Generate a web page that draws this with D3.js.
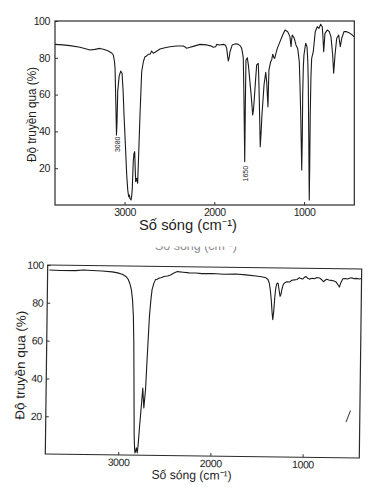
<!DOCTYPE html>
<html>
  <head>
    <meta charset="utf-8">
    <title>Phổ hồng ngoại</title>
    <script src="https://d3js.org/d3.v7.min.js"></script>
    <style>
      body { margin: 0; background: #fff; }
      .axis .tick text {
        font-family: "Liberation Sans", Arial, sans-serif;
        font-size: 10.5px;
        fill: #1e1e1e;
        letter-spacing: -0.4px;
      }
      .axis .tick line { stroke: #333; }
      .axis-label {
        font-family: "Liberation Sans", Arial, sans-serif;
        fill: #1e1e1e;
      }
      .peak-label {
        font-family: "Liberation Sans", Arial, sans-serif;
        font-size: 7px;
        fill: #222;
      }
    </style>
  </head>
  <body>
    <svg width="388" height="489"></svg>
    <script>
      const xTicks = [3000, 2000, 1000];
      const yTicks = [20, 40, 60, 80, 100];
      const xTitle = "Số sóng (cm⁻¹)";
      const yTitle = "Độ truyền qua (%)";

      // upper spectrum: [wavenumber, transmittance]
      const topSpectrum = [
        [3775,87.3],[3690,87],[3608,86.6],[3496,85.7],[3385,84.2],[3330,84.6],[3274,85.1],[3225,84.5],
        [3181,83.7],[3140,82.5],[3125,81.5],[3112,78],[3106,74.3],[3097,55],[3090,38],[3084,45],[3076,62],
        [3060,70],[3043,72.8],[3028,71.6],[3016,62],[3006,48.9],[2990,32],[2976,16.3],[2964,8],[2954,4.5],
        [2946,5.4],[2939,3.5],[2928,2.7],[2920,5],[2914,9],[2903,23.6],[2895,28],[2887,29],[2880,18],
        [2876,12.7],[2865,14.5],[2854,11.8],[2843,27.2],[2828,48.9],[2809,72.4],[2790,78],[2772,80.6],
        [2755,81],[2735,81.9],[2715,82],[2698,83.7],[2680,82.5],[2661,83],[2630,84],[2605,84.8],[2550,85.5],
        [2494,86],[2420,86.4],[2346,86.4],[2320,85.7],[2307,85.2],[2270,85.7],[2234,86.2],[2159,87.3],
        [2085,87],[2040,86.5],[2011,85.7],[1985,86],[1973,87.3],[1940,87],[1900,87.3],[1875,86.8],
        [1862,85.1],[1852,81],[1844,78.3],[1835,80],[1825,83.3],[1800,87],[1760,87.6],[1733,87.3],
        [1710,86.5],[1695,85.1],[1683,82],[1677,79.7],[1670,60],[1661,23.6],[1654,55],[1647,78.8],
        [1632,80],[1620,76],[1610,70.7],[1590,60],[1572,48.9],[1563,52],[1554,58],[1540,68],[1528,76.1],
        [1510,77],[1505,70],[1499,58],[1488,31.7],[1478,40],[1469,48.9],[1456,58],[1446,65.2],[1427,72.1],
        [1416,67],[1409,60],[1402,53.4],[1396,65],[1391,73.4],[1372,77.9],[1360,79],[1349,81.9],[1335,80],
        [1327,79.7],[1310,83],[1298,85.1],[1268,88.8],[1238,92.4],[1212,95.1],[1182,94.2],[1157,91.5],
        [1145,86],[1138,90],[1131,92.4],[1109,90.6],[1090,87],[1071,85.1],[1053,77.9],[1045,65],[1037,48.9],
        [1030,30],[1026,19],[1020,35],[1015,60],[1008,75],[1001,81.5],[982,87.9],[967,86],[958,78],[953,67],
        [947,35],[942,2.7],[937,20],[931,48.9],[923,70],[915,79.7],[897,83.3],[886,88.8],[875,94.2],
        [853,96.9],[834,96],[815,98.2],[797,96.9],[790,92],[781,83.3],[774,88],[767,93.3],[741,95.1],
        [719,94.2],[700,91.5],[681,81.5],[670,71.6],[660,78],[655,81.5],[636,90.6],[614,92.4],[596,86],
        [580,90.6],[555,94.2],[525,94.2],[488,93.3],[465,92.5],[443,91.5]
      ];

      // lower spectrum
      const bottomSpectrum = [
        [3772,97.4],[3650,97.2],[3489,97.2],[3400,97.6],[3307,97.4],[3200,97.2],[3090,96.8],[3030,96.3],
        [2981,95.6],[2940,94.5],[2916,93],[2895,90.5],[2880,87.7],[2865,82],[2854,73.5],[2846,60],
        [2840,43.5],[2834,25],[2829,10],[2822,3],[2818,1.2],[2811,2],[2804,3.9],[2798,2.5],[2793,1.2],
        [2784,6],[2774,13.6],[2763,21],[2753,27.7],[2742,35.6],[2735,30],[2728,25],[2720,30],[2712,34.8],
        [2698,52.4],[2680,73.5],[2667,82],[2655,87.7],[2637,91],[2619,93],[2600,93.2],[2582,93.8],
        [2560,94],[2527,94.7],[2490,95],[2456,95.6],[2420,96.6],[2383,97.4],[2320,97.1],[2256,96.8],
        [2180,96.8],[2118,96.5],[2000,96.6],[1880,96.3],[1749,96.5],[1640,96.1],[1531,95.6],[1470,95.2],
        [1422,94.7],[1400,93.8],[1385,92],[1372,88],[1360,82.4],[1350,76],[1342,72.6],[1333,77],
        [1324,84.1],[1315,89],[1306,91.2],[1297,92],[1288,91.8],[1280,89],[1266,85],[1257,86],[1248,88.5],
        [1235,91],[1222,92],[1195,92.8],[1168,92.6],[1140,93.6],[1113,93.8],[1085,94],[1059,95],
        [1040,94.5],[1023,94.3],[1005,95.2],[987,95.6],[970,94.8],[950,94.3],[920,94.8],[896,94.5],
        [870,95.2],[842,95],[820,94.2],[798,93],[780,93.8],[762,94.3],[740,94],[716,93.8],[690,93.6],
        [661,93],[640,91.5],[624,90.3],[610,92.5],[588,94.7],[560,94.9],[540,94.6],[515,95],[490,95.3],
        [470,94.8],[443,95],[410,94.7],[385,95]
      ];
      // small pen stroke on the scan
      const bottomStray = [[534,18.9],[487,25]];

      const topPeaks = [{wn: 3080, y: 33}, {wn: 1650, y: 17}];

      const svg = d3.select("svg");

      function renderPanel(g, o) {
        const x = d3.scaleLinear().domain(o.xDomain).range([o.left, o.right]);
        const y = d3.scaleLinear().domain([0, 100]).range([o.bottom, o.top]);

        const xAxis = g.append("g")
            .attr("class", "axis")
            .attr("transform", `translate(0, ${o.bottom})`)
            .call(d3.axisBottom(x).tickValues(xTicks).tickFormat(d3.format("d"))
              .tickSize(-3).tickPadding(o.xPad));
        xAxis.select(".domain").remove();

        const yAxis = g.append("g")
            .attr("class", "axis")
            .attr("transform", `translate(${o.left}, 0)`)
            .call(d3.axisLeft(y).tickValues(yTicks).tickFormat(d3.format("d"))
              .tickSize(-3).tickPadding(o.yPad));
        yAxis.select(".domain").remove();

        g.append("rect")
            .attr("x", o.left)
            .attr("y", o.top)
            .attr("width", o.right - o.left)
            .attr("height", o.bottom - o.top)
            .attr("fill", "none")
            .attr("stroke", "#2a2a2a")
            .attr("stroke-width", 1.2);

        const line = d3.line()
            .x(d => x(d[0]))
            .y(d => y(d[1]));

        g.append("path")
            .datum(o.data)
            .attr("d", line)
            .attr("fill", "none")
            .attr("stroke", "#1b1b1b")
            .attr("stroke-width", 1.1)
            .attr("stroke-linejoin", "round");

        g.append("text")
            .attr("class", "axis-label")
            .attr("x", o.xTitleX)
            .attr("y", o.xTitleY)
            .attr("text-anchor", "middle")
            .attr("font-size", o.xTitleSize)
            .attr("textLength", o.xTitleLen)
            .attr("lengthAdjust", "spacingAndGlyphs")
            .text(xTitle);

        g.append("text")
            .attr("class", "axis-label")
            .attr("transform", `translate(${o.yTitleX}, ${o.yTitleY}) rotate(-90)`)
            .attr("text-anchor", "middle")
            .attr("font-size", o.yTitleSize)
            .attr("textLength", o.yTitleLen)
            .attr("lengthAdjust", "spacingAndGlyphs")
            .text(yTitle);

        return {x, y};
      }

      // upper panel
      const topG = svg.append("g");
      const topScales = renderPanel(topG, {
        xDomain: [3775, 440], left: 55, right: 354.3, top: 21, bottom: 205,
        data: topSpectrum, xPad: 4, yPad: 5,
        xTitleX: 188, xTitleY: 230, xTitleSize: 14, xTitleLen: 98,
        yTitleX: 36, yTitleY: 114.5, yTitleSize: 13, yTitleLen: 95
      });

      topG.selectAll(".peak-label")
        .data(topPeaks)
        .enter().append("text")
          .attr("class", "peak-label")
          .attr("transform", d => `translate(${topScales.x(d.wn) + 2.5}, ${topScales.y(d.y)}) rotate(-90)`)
          .attr("text-anchor", "middle")
          .text(d => d.wn);

      // cut-off caption left over from the scan above the lower panel
      svg.append("clipPath")
          .attr("id", "cut")
        .append("rect")
          .attr("x", 140).attr("y", 246.5).attr("width", 110).attr("height", 8);
      svg.append("text")
          .attr("class", "axis-label")
          .attr("clip-path", "url(#cut)")
          .attr("x", 196)
          .attr("y", 249.5)
          .attr("text-anchor", "middle")
          .attr("font-size", 13)
          .attr("textLength", 82)
          .attr("lengthAdjust", "spacingAndGlyphs")
          .style("fill", "#8a8a8a")
          .text(xTitle);

      // lower panel (scan is slightly rotated)
      const bottomG = svg.append("g")
          .attr("transform", "rotate(0.73, 203, 361)");
      const bottomScales = renderPanel(bottomG, {
        xDomain: [3790, 385], left: 46.5, right: 360.5, top: 267, bottom: 456,
        data: bottomSpectrum, xPad: 3.5, yPad: 4,
        xTitleX: 193, xTitleY: 479.5, xTitleSize: 12.5, xTitleLen: 80,
        yTitleX: 25, yTitleY: 367.5, yTitleSize: 13, yTitleLen: 109
      });

      bottomG.append("path")
          .datum(bottomStray)
          .attr("d", d3.line().x(d => bottomScales.x(d[0])).y(d => bottomScales.y(d[1])))
          .attr("fill", "none")
          .attr("stroke", "#333")
          .attr("stroke-width", 1);
    </script>
  </body>
</html>
